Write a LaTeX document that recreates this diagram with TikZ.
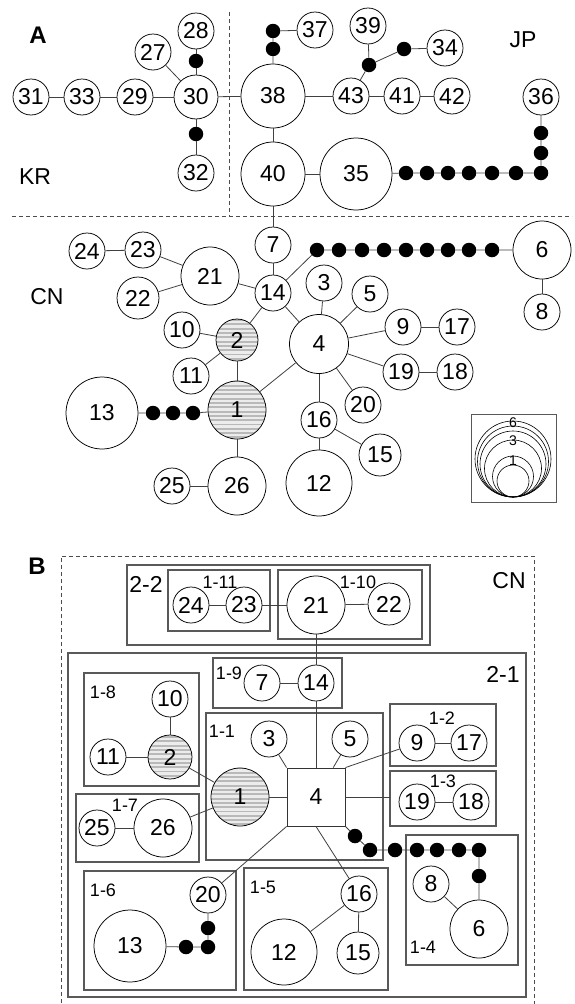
\documentclass[tikz,border=0pt]{standalone}
\usepackage{fontspec}
\setmainfont{Liberation Sans}
\begin{document}
\begin{tikzpicture}[x=1pt,y=-1pt,
  hap/.style={circle,draw=black,line width=0.75pt,fill=white,inner sep=0pt,minimum size=#1,font=\fontsize{23}{23}\selectfont},
  sqn/.style={rectangle,draw=black!80,line width=0.9pt,fill=white,inner sep=0pt,minimum size=58pt,font=\fontsize{23}{23}\selectfont},
  hatch/.style={fill=gray!15,path picture={\foreach \k in {-36,-31.7,...,36}{\draw[gray!55,line width=1.9pt] ([yshift=\k pt]path picture bounding box.west) -- ([yshift=\k pt]path picture bounding box.east);}}},
  dotn/.style={circle,fill=black,inner sep=0pt,minimum size=14.5pt},
  link/.style={draw=black!75,line width=0.8pt},
  boxst/.style={draw=black!65,line width=1.1pt},
  dashln/.style={draw=black!70,line width=0.8pt,dash pattern=on 4pt off 3pt},
  lbl/.style={inner sep=0pt,font=\fontsize{23}{23}\selectfont},
  blbl/.style={inner sep=0pt,font=\fontsize{18}{18}\selectfont},
  panel/.style={inner sep=0pt,font=\fontsize{24}{24}\selectfont\bfseries},
  leg/.style={inner sep=0pt,font=\fontsize{14}{14}\selectfont}
]
\useasboundingbox (0,0) rectangle (574,1004);
\fill[white] (0,0) rectangle (574,1004);

%% ================= Panel A =================
\node[panel] (labA) at (38,35) {A};
\node[lbl] (labKR) at (35,177) {KR};
\node[lbl] (labJP) at (523,40) {JP};
\node[lbl] (labCN) at (47,297) {CN};
\draw[dashln] (229,12) -- (229,216);
\draw[dashln] (12,216) -- (572,216);

% KR group
\node[hap=36pt] (a28) at (196,31) {28};
\node[hap=36pt] (a27) at (153,52) {27};
\node[hap=44pt] (a30) at (196,97) {30};
\node[hap=36pt] (a31) at (31,97) {31};
\node[hap=36pt] (a33) at (82,97) {33};
\node[hap=36pt] (a29) at (135,97) {29};
\node[hap=36pt] (a32) at (196,173) {32};
\node[dotn] (ad1) at (196,61) {};
\node[dotn] (ad2) at (196,134) {};

% JP group
\node[hap=64pt] (a38) at (273,96) {38};
\node[hap=64pt] (a40) at (273,174) {40};
\node[dotn] (ad3) at (273,49) {};
\node[dotn] (ad4) at (273,31) {};
\node[hap=36pt] (a37) at (315,30) {37};
\node[hap=36pt] (a39) at (368,26) {39};
\node[dotn] (ad5) at (369,65) {};
\node[dotn] (ad6) at (404,49) {};
\node[hap=36pt] (a34) at (445,48) {34};
\node[hap=36pt] (a43) at (351,96) {43};
\node[hap=36pt] (a41) at (402,96) {41};
\node[hap=36pt] (a42) at (452,96) {42};
\node[hap=36pt] (a36) at (541,97) {36};
\node[hap=72pt] (a35) at (356,174) {35};
\node[dotn] (ah1) at (406,173) {};
\node[dotn] (ah2) at (427,173) {};
\node[dotn] (ah3) at (448,173) {};
\node[dotn] (ah4) at (469,173) {};
\node[dotn] (ah5) at (492,173) {};
\node[dotn] (ah6) at (516,173) {};
\node[dotn] (ah7) at (541,173) {};
\node[dotn] (av2) at (541,153) {};
\node[dotn] (av1) at (541,133) {};

% CN group
\node[hap=36pt] (a7) at (273,245) {7};
\node[hap=36pt] (a14) at (273,293) {14};
\node[hap=58pt] (a21) at (210,276) {21};
\node[hap=36pt] (a23) at (143,250) {23};
\node[hap=36pt] (a24) at (87,251) {24};
\node[hap=42pt] (a22) at (138,298) {22};
\node[hap=36pt] (a10) at (182,330) {10};
\node[hap=42pt,hatch] (a2) at (237,340) {2};
\node[hap=36pt] (a11) at (191,376) {11};
\node[hap=58pt,hatch] (a1) at (237,410) {1};
\node[hap=72pt] (a13) at (102,413) {13};
\node[dotn] (ac1) at (153,413) {};
\node[dotn] (ac2) at (173,413) {};
\node[dotn] (ac3) at (193,413) {};
\node[hap=58pt] (a26) at (237,486) {26};
\node[hap=36pt] (a25) at (172,486) {25};
\node[hap=66pt] (a12) at (319,483) {12};
\node[hap=36pt] (a16) at (319,420) {16};
\node[hap=42pt] (a15) at (380,455) {15};
\node[hap=59pt] (a4) at (319,344) {4};
\node[hap=36pt] (a3) at (324,283) {3};
\node[hap=36pt] (a5) at (370,294) {5};
\node[hap=36pt] (a9) at (403,327) {9};
\node[hap=36pt] (a17) at (457,327) {17};
\node[hap=36pt] (a19) at (401,372) {19};
\node[hap=36pt] (a18) at (455,372) {18};
\node[hap=36pt] (a20) at (363,405) {20};
\node[hap=58pt] (a6) at (542,250) {6};
\node[hap=36pt] (a8) at (542,312) {8};
\node[dotn] (ar1) at (317,250) {};
\node[dotn] (ar2) at (339,250) {};
\node[dotn] (ar3) at (362,250) {};
\node[dotn] (ar4) at (384,250) {};
\node[dotn] (ar5) at (406,250) {};
\node[dotn] (ar6) at (427,250) {};
\node[dotn] (ar7) at (448,250) {};
\node[dotn] (ar8) at (469,250) {};
\node[dotn] (ar9) at (492,250) {};

% A links
\draw[link] (a31) -- (a33);
\draw[link] (a33) -- (a29);
\draw[link] (a29) -- (a30);
\draw[link] (a27) -- (a30);
\draw[link] (a28) -- (ad1) -- (a30);
\draw[link] (a30) -- (ad2) -- (a32);
\draw[link] (a30) -- (a38);
\draw[link] (a38) -- (ad3) -- (ad4) -- (a37);
\draw[link] (a38) -- (a43);
\draw[link] (a43) -- (a41);
\draw[link] (a41) -- (a42);
\draw[link] (a43) -- (ad5) -- (a39);
\draw[link] (ad5) -- (ad6) -- (a34);
\draw[link] (a38) -- (a40);
\draw[link] (a40) -- (a35);
\draw[link] (a35) -- (ah1) -- (ah2) -- (ah3) -- (ah4) -- (ah5) -- (ah6) -- (ah7) -- (av2) -- (av1) -- (a36);
\draw[link] (a40) -- (a7);
\draw[link] (a7) -- (a14);
\draw[link] (a14) -- (a21);
\draw[link] (a21) -- (a23);
\draw[link] (a21) -- (a22);
\draw[link] (a23) -- (a24);
\draw[link] (a14) -- (a2);
\draw[link] (a14) -- (a4);
\draw[link] (a14) -- (ar1) -- (ar2) -- (ar3) -- (ar4) -- (ar5) -- (ar6) -- (ar7) -- (ar8) -- (ar9) -- (a6);
\draw[link] (a6) -- (a8);
\draw[link] (a2) -- (a10);
\draw[link] (a2) -- (a11);
\draw[link] (a2) -- (a1);
\draw[link] (a1) -- (a4);
\draw[link] (a1) -- (ac3) -- (ac2) -- (ac1) -- (a13);
\draw[link] (a1) -- (a26);
\draw[link] (a26) -- (a25);
\draw[link] (a4) -- (a3);
\draw[link] (a4) -- (a5);
\draw[link] (a4) -- (a9);
\draw[link] (a9) -- (a17);
\draw[link] (a4) -- (a19);
\draw[link] (a19) -- (a18);
\draw[link] (a4) -- (a20);
\draw[link] (a4) -- (a16);
\draw[link] (a16) -- (a15);
\draw[link] (a16) -- (a12);

% legend
\draw[boxst,line width=0.9pt] (471,414) rectangle (556,502);
\foreach \r in {38,35.5,33,28.5,20.5,16}{\draw[black,line width=0.6pt] (513,497-\r) circle[radius=\r pt];}
\node[leg] (leg6) at (513,423) {6};
\node[leg] (leg3) at (513,441) {3};
\node[leg] (leg1) at (513,461) {1};

%% ================= Panel B =================
\node[panel] (labB) at (37,566) {B};
\draw[dashln] (61,1010) -- (61,556) -- (534,556) -- (534,1010);
\node[lbl] (labCN2) at (509,581) {CN};

% boxes
\draw[boxst] (127,565) rectangle (430,645);
\draw[boxst] (168,570) rectangle (270,631);
\draw[boxst] (278,570) rectangle (422,639);
\draw[boxst] (68,653) rectangle (526,997);
\draw[boxst] (213,658) rectangle (342,708);
\draw[boxst] (206,713) rectangle (383,860);
\draw[boxst] (390,704) rectangle (496,766);
\draw[boxst] (390,771) rectangle (496,826);
\draw[boxst] (406,835) rectangle (518,965);
\draw[boxst] (244,868) rectangle (388,990);
\draw[boxst] (84,673) rectangle (199,786);
\draw[boxst] (76,794) rectangle (199,862);
\draw[boxst] (84,871) rectangle (236,990);

\node[lbl] (l22) at (146,584) {2-2};
\node[blbl] (l111) at (220,582) {1-11};
\node[blbl] (l110) at (358,582) {1-10};
\node[lbl] (l21) at (503,674) {2-1};
\node[blbl] (l19) at (229,673) {1-9};
\node[blbl] (l11) at (222,731) {1-1};
\node[blbl] (l12) at (442,718) {1-2};
\node[blbl] (l13) at (443,781) {1-3};
\node[blbl] (l14) at (423,947) {1-4};
\node[blbl] (l15) at (263,887) {1-5};
\node[blbl] (l18) at (103,692) {1-8};
\node[blbl] (l17) at (125,805) {1-7};
\node[blbl] (l16) at (103,890) {1-6};

% nodes
\node[hap=36pt] (b24) at (191,605) {24};
\node[hap=36pt] (b23) at (244,605) {23};
\node[hap=58pt] (b21) at (316,605) {21};
\node[hap=42pt] (b22) at (389,604) {22};
\node[hap=36pt] (b7) at (262,683) {7};
\node[hap=36pt] (b14) at (316,683) {14};
\node[hap=36pt] (b3) at (269,739) {3};
\node[hap=36pt] (b5) at (350,739) {5};
\node[sqn] (b4) at (316,797) {4};
\node[hap=36pt] (b9) at (417,743) {9};
\node[hap=36pt] (b17) at (469,743) {17};
\node[hap=36pt] (b19) at (417,802) {19};
\node[hap=36pt] (b18) at (471,802) {18};
\node[dotn] (bd1) at (355,836) {};
\node[dotn] (bd2) at (370,850) {};
\node[dotn] (bd3) at (395,850) {};
\node[dotn] (bd4) at (417,850) {};
\node[dotn] (bd5) at (437,850) {};
\node[dotn] (bd6) at (459,850) {};
\node[dotn] (bd7) at (479,850) {};
\node[dotn] (bd8) at (479,876) {};
\node[hap=36pt] (b8) at (431,884) {8};
\node[hap=58pt] (b6) at (479,929) {6};
\node[hap=36pt] (b16) at (359,894) {16};
\node[hap=66pt] (b12) at (284,952) {12};
\node[hap=42pt] (b15) at (358,953) {15};
\node[hap=36pt] (b10) at (170,699) {10};
\node[hap=36pt] (b11) at (108,757) {11};
\node[hap=44pt,hatch] (b2) at (170,757) {2};
\node[hap=58pt,hatch] (b1) at (240,797) {1};
\node[hap=36pt] (b25) at (97,828) {25};
\node[hap=58pt] (b26) at (163,828) {26};
\node[hap=36pt] (b20) at (208,895) {20};
\node[hap=72pt] (b13) at (130,946) {13};
\node[dotn] (be1) at (208,928) {};
\node[dotn] (be2) at (208,947) {};
\node[dotn] (be3) at (186,947) {};
\coordinate (b13w) at (390,797);

% B links
\draw[link] (b24) -- (b23);
\draw[link] (b23) -- (b21);
\draw[link] (b21) -- (b22);
\draw[link] (b21) -- (b14);
\draw[link] (b7) -- (b14);
\draw[link] (b14) -- (b4.north);
\draw[link] (b3) -- (b4.north west);
\draw[link] (b5) -- (b4);
\draw[link] (b4.north east) -- (b9);
\draw[link] (b9) -- (b17);
\draw[link] (b4.east) -- (b13w);
\draw[link] (b19) -- (b18);
\draw[link] (b1) -- (b4.west);
\draw[link] (b2) -- (b1);
\draw[link] (b10) -- (b2);
\draw[link] (b11) -- (b2);
\draw[link] (b26) -- (b1);
\draw[link] (b25) -- (b26);
\draw[link] (b4.south west) -- (b20);
\draw[link] (b20) -- (be1) -- (be2) -- (be3) -- (b13);
\draw[link] (b4.south) -- (b16);
\draw[link] (b16) -- (b15);
\draw[link] (b16) -- (b12);
\draw[link] (b4.south east) -- (bd1) -- (bd2) -- (bd3) -- (bd4) -- (bd5) -- (bd6) -- (bd7) -- (bd8) -- (b6);
\draw[link] (b6) -- (b8);
\end{tikzpicture}
\end{document}
